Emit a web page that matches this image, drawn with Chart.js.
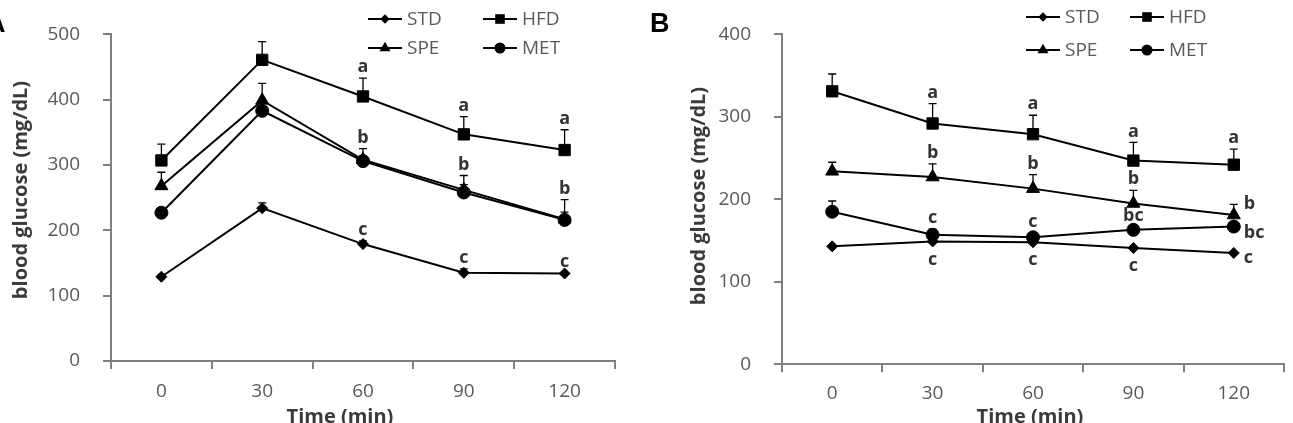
<!DOCTYPE html>
<html>
<head>
<meta charset="utf-8">
<script src="https://cdn.jsdelivr.net/npm/chart.js@4/dist/chart.umd.min.js"></script>
<style>
  html, body { margin: 0; padding: 0; background: #fff; overflow: hidden; width: 1293px; height: 423px; }
  canvas { position: absolute; top: 0; }
  #cA { left: 0; }
  #cB { left: 640px; }
</style>
</head>
<body>
<canvas id="cA" width="640" height="440"></canvas>
<canvas id="cB" width="653" height="440"></canvas>
<script>
// ---------- data ----------
const times = ['0', '30', '60', '90', '120'];
const seriesNames = ['STD', 'HFD', 'SPE', 'MET'];

// Panel A
const stdA = [129, 234, 179, 135, 134];
const hfdA = [307, 461, 405, 347, 323];
const speA = [268, 399, 308, 262, 217];
const metA = [227, 383, 306, 258, 216];
const stdErrA = [3, 8, 5, 6, 1];
const hfdErrA = [25, 28, 28, 27, 31];
const speErrA = [21, 26, 17, 22, 30];
const metErrA = [4, 6, 8, 12, 12];
const stdLetA = ['', '', 'c', 'c', 'c'];
const hfdLetA = ['', '', 'a', 'a', 'a'];
const speLetA = ['', '', 'b', 'b', 'b'];
const metLetA = ['', '', '', '', ''];

// Panel B
const stdB = [143, 149, 148, 141, 135];
const hfdB = [331, 292, 279, 247, 242];
const speB = [234, 227, 213, 195, 181];
const metB = [185, 157, 154, 163, 167];
const stdErrB = [0, 0, 0, 0, 0];
const hfdErrB = [21, 24, 23, 22, 19];
const speErrB = [11, 16, 17, 16, 13];
const metErrB = [13, 7, 5, 4, 3];
const stdLetB = ['', 'c', 'c', 'c', 'c'];
const hfdLetB = ['', 'a', 'a', 'a', 'a'];
const speLetB = ['', 'b', 'b', 'b', 'b'];
const metLetB = ['', 'c', 'c', 'bc', 'bc'];

// ---------- styling ----------
const FONT = "'Open Sans', 'Noto Sans', sans-serif";
const TICK_COLOR = '#595959';
const AXIS_COLOR = '#808080';
const TITLE_COLOR = '#3a3a3a';
const markers = {
  STD: { style: 'rectRot', r: 5.5 },
  HFD: { style: 'rect', r: 8 },
  SPE: { style: 'triangle', r: 7.5 },
  MET: { style: 'circle', r: 6.5 }
};

function mk(name, data, errors, letters, letterPos, rightDy) {
  return {
    label: name, data, errors, letters, letterPos, rightDy,
    borderColor: '#000', backgroundColor: '#000',
    pointBackgroundColor: '#000', pointBorderColor: '#000', pointBorderWidth: 1,
    borderWidth: 2, tension: 0,
    pointStyle: markers[name].style, pointRadius: markers[name].r, pointHoverRadius: markers[name].r
  };
}

function drawMarker(ctx, style, r, x, y) {
  ctx.beginPath();
  if (style === 'circle') {
    ctx.arc(x, y, r, 0, Math.PI * 2);
  } else if (style === 'rect') {
    const s = r * Math.SQRT1_2;
    ctx.rect(x - s, y - s, 2 * s, 2 * s);
  } else if (style === 'rectRot') {
    ctx.moveTo(x, y - r); ctx.lineTo(x + r, y); ctx.lineTo(x, y + r); ctx.lineTo(x - r, y); ctx.closePath();
  } else if (style === 'triangle') {
    ctx.moveTo(x, y - r);
    ctx.lineTo(x + Math.sin(Math.PI * 2 / 3) * r, y + r / 2);
    ctx.lineTo(x - Math.sin(Math.PI * 2 / 3) * r, y + r / 2);
    ctx.closePath();
  }
  ctx.fill();
}

const annot = {
  id: 'annot',
  beforeDatasetsDraw(chart) {
    const { ctx, scales: { y } } = chart;
    chart.data.datasets.forEach((ds, i) => {
      if (!ds.errors) return;
      const meta = chart.getDatasetMeta(i);
      ctx.save();
      ctx.strokeStyle = '#000';
      ctx.lineWidth = 1.3;
      meta.data.forEach((pt, j) => {
        const e = ds.errors[j];
        if (!e) return;
        const yt = y.getPixelForValue(ds.data[j] + e);
        ctx.beginPath();
        ctx.moveTo(pt.x, pt.y); ctx.lineTo(pt.x, yt);
        ctx.moveTo(pt.x - 4, yt); ctx.lineTo(pt.x + 4, yt);
        ctx.stroke();
      });
      ctx.restore();
    });
  },
  afterDatasetsDraw(chart, args, opts) {
    const { ctx, scales: { y } } = chart;
    ctx.save();
    // significance letters
    ctx.fillStyle = '#333';
    ctx.font = 'bold 18px ' + FONT;
    ctx.textBaseline = 'middle';
    chart.data.datasets.forEach((ds, i) => {
      const meta = chart.getDatasetMeta(i);
      const n = ds.data.length;
      meta.data.forEach((pt, j) => {
        const t = ds.letters[j];
        if (!t) return;
        const errTop = y.getPixelForValue(ds.data[j] + (ds.errors[j] || 0));
        if (opts.lastRight && j === n - 1 && ds.rightDy !== null) {
          ctx.textAlign = 'left';
          ctx.fillText(t, pt.x + 10, pt.y + ds.rightDy);
        } else if (ds.letterPos === 'below') {
          ctx.textAlign = 'center';
          ctx.fillText(t, pt.x, pt.y + 18);
        } else {
          ctx.textAlign = 'center';
          ctx.fillText(t, pt.x, errTop - 11);
        }
      });
    });
    // legend (2 x 2)
    ctx.font = '19px ' + FONT;
    ctx.textAlign = 'left';
    chart.data.datasets.forEach((ds, i) => {
      const col = i % 2, row = Math.floor(i / 2);
      const lx = opts.legendX[col], ly = opts.legendY[row];
      ctx.strokeStyle = '#000';
      ctx.lineWidth = 2;
      ctx.beginPath(); ctx.moveTo(lx, ly); ctx.lineTo(lx + 34, ly); ctx.stroke();
      ctx.fillStyle = '#000';
      drawMarker(ctx, markers[ds.label].style, markers[ds.label].r * 0.85, lx + 17, ly);
      ctx.fillStyle = TICK_COLOR;
      ctx.fillText(ds.label, lx + 39, ly + 1);
    });
    // axis titles
    ctx.fillStyle = TITLE_COLOR;
    ctx.font = 'bold 20px ' + FONT;
    ctx.textAlign = 'center';
    ctx.textBaseline = 'middle';
    ctx.fillText(opts.xTitle, opts.xTitlePos[0], opts.xTitlePos[1]);
    ctx.save();
    ctx.translate(opts.yTitlePos[0], opts.yTitlePos[1]);
    ctx.rotate(-Math.PI / 2);
    ctx.fillText(opts.yTitle, 0, 0);
    ctx.restore();
    // panel letter
    ctx.fillStyle = '#000';
    ctx.font = "bold 27px 'Liberation Sans', Arial, sans-serif";
    ctx.textAlign = 'left';
    ctx.textBaseline = 'alphabetic';
    ctx.fillText(opts.panel, opts.panelPos[0], opts.panelPos[1]);
    ctx.restore();
  }
};

function scalesFor(yMax, yWidth, xHeight, xPad) {
  return {
    x: {
      type: 'category', offset: true,
      grid: { offset: true, drawOnChartArea: false, color: AXIS_COLOR, lineWidth: 2, tickLength: 8 },
      border: { color: AXIS_COLOR, width: 2 },
      ticks: { color: TICK_COLOR, font: { family: FONT, size: 19 }, padding: xPad, maxRotation: 0 },
      afterFit(s) { s.height = xHeight; }
    },
    y: {
      min: 0, max: yMax,
      grid: { drawOnChartArea: false, color: AXIS_COLOR, lineWidth: 2, tickLength: 8 },
      border: { color: AXIS_COLOR, width: 2 },
      ticks: { stepSize: 100, color: TICK_COLOR, font: { family: FONT, size: 19 }, padding: 23 },
      afterFit(s) { s.width = yWidth; }
    }
  };
}

new Chart(document.getElementById('cA'), {
  type: 'line',
  data: {
    labels: times,
    datasets: [
      mk('STD', stdA, stdErrA, stdLetA, 'above', null),
      mk('HFD', hfdA, hfdErrA, hfdLetA, 'above', null),
      mk('SPE', speA, speErrA, speLetA, 'above', null),
      mk('MET', metA, metErrA, metLetA, 'above', null)
    ]
  },
  options: {
    responsive: false, animation: false,
    layout: { padding: { top: 32, right: 25, left: 0, bottom: 0 } },
    plugins: {
      legend: { display: false }, tooltip: { enabled: false },
      annot: {
        lastRight: false,
        legendX: [368, 483], legendY: [19, 48],
        xTitle: 'Time (min)', xTitlePos: [340, 417],
        yTitle: 'blood glucose (mg/dL)', yTitlePos: [21, 190],
        panel: 'A', panelPos: [-14, 32]
      }
    },
    scales: scalesFor(500, 111, 79, 11)
  },
  plugins: [annot]
});

new Chart(document.getElementById('cB'), {
  type: 'line',
  data: {
    labels: times,
    datasets: [
      mk('STD', stdB, stdErrB, stdLetB, 'below', 5),
      mk('HFD', hfdB, hfdErrB, hfdLetB, 'above', null),
      mk('SPE', speB, speErrB, speLetB, 'above', -11),
      mk('MET', metB, metErrB, metLetB, 'above', 6)
    ]
  },
  options: {
    responsive: false, animation: false,
    layout: { padding: { top: 32.3, right: 1, left: 0, bottom: 0 } },
    plugins: {
      legend: { display: false }, tooltip: { enabled: false },
      annot: {
        lastRight: true,
        legendX: [386, 490], legendY: [17, 50],
        xTitle: 'Time (min)', xTitlePos: [390, 417],
        yTitle: 'blood glucose (mg/dL)', yTitlePos: [59, 196],
        panel: 'B', panelPos: [10, 32]
      }
    },
    scales: scalesFor(400, 142, 75.7, 10)
  },
  plugins: [annot]
});
</script>
</body>
</html>
